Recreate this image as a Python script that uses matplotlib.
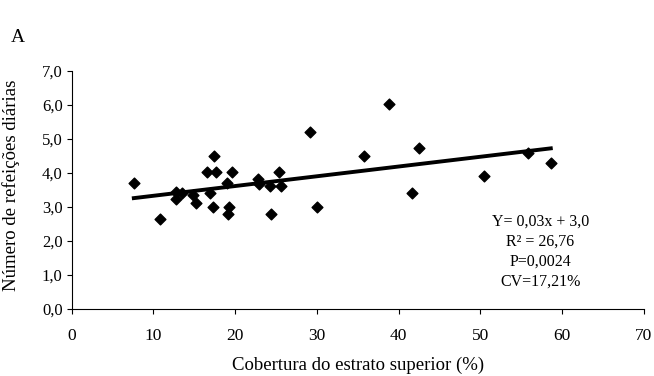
import matplotlib
matplotlib.use("Agg")
import matplotlib.pyplot as plt
import numpy as np

plt.rcParams['font.family'] = ['Liberation Serif', 'DejaVu Serif']

# cobertura do estrato superior (%) e numero de refeicoes diarias
cobertura = [7.6, 10.8, 12.7, 12.7, 13.5, 14.9, 15.2, 16.5, 16.9, 17.3,
             17.4, 17.65, 19.0, 19.15, 19.3, 19.6, 22.75, 22.9, 24.2, 24.4,
             25.3, 25.6, 29.2, 30.0, 35.8, 38.8, 41.6, 42.5, 50.4, 55.8, 58.6]
refeicoes = [3.7, 2.64, 3.45, 3.23, 3.42, 3.35, 3.13, 4.04, 3.42, 3.0,
             4.5, 4.04, 3.7, 2.79, 3.0, 4.04, 3.82, 3.68, 3.62, 2.79,
             4.04, 3.62, 5.21, 3.0, 4.5, 6.04, 3.42, 4.73, 3.91, 4.6, 4.31]

slope = 0.0287
intercept = 3.045

xticks = [0, 10, 20, 30, 40, 50, 60, 70]
yticks = [0, 1, 2, 3, 4, 5, 6, 7]
ytick_labels = ["0,0", "1,0", "2,0", "3,0", "4,0", "5,0", "6,0", "7,0"]

stats = "Y= 0,03x + 3,0\nR² = 26,76\nP=0,0024\nCV=17,21%"

fig = plt.figure(figsize=(6.54, 3.76), dpi=100)
ax = fig.add_axes([0.1096, 0.178, 0.8751, 0.633])

ax.scatter(cobertura, refeicoes, marker='D', s=30, color='black', zorder=3)

xl = np.array([min(cobertura), max(cobertura)])
ax.plot(xl, slope * xl + intercept, color='black', lw=2.8, zorder=2)

ax.set_xlim(0, 70)
ax.set_ylim(0, 7)
ax.set_xticks(xticks)
ax.set_yticks(yticks)
ax.set_yticklabels(ytick_labels)
ax.tick_params(direction='out', length=3.6, width=0.8, labelsize=12)
ax.tick_params(axis='x', pad=10, labelsize=12.5)
ax.tick_params(axis='y', pad=3)
ax.spines['top'].set_visible(False)
ax.spines['right'].set_visible(False)

ax.set_xlabel("Cobertura do estrato superior (%)", fontsize=13.5, labelpad=9)
ax.set_ylabel("Número de refeições diárias", fontsize=13.5)
ax.yaxis.set_label_coords(-0.09, 0.52)

ax.text(57.3, 2.8, stats, ha='center', va='top', fontsize=11.5, linespacing=1.32)
fig.text(0.028, 0.899, "A", fontsize=14, ha='center', va='center')

fig.savefig("out.png", dpi=100)
